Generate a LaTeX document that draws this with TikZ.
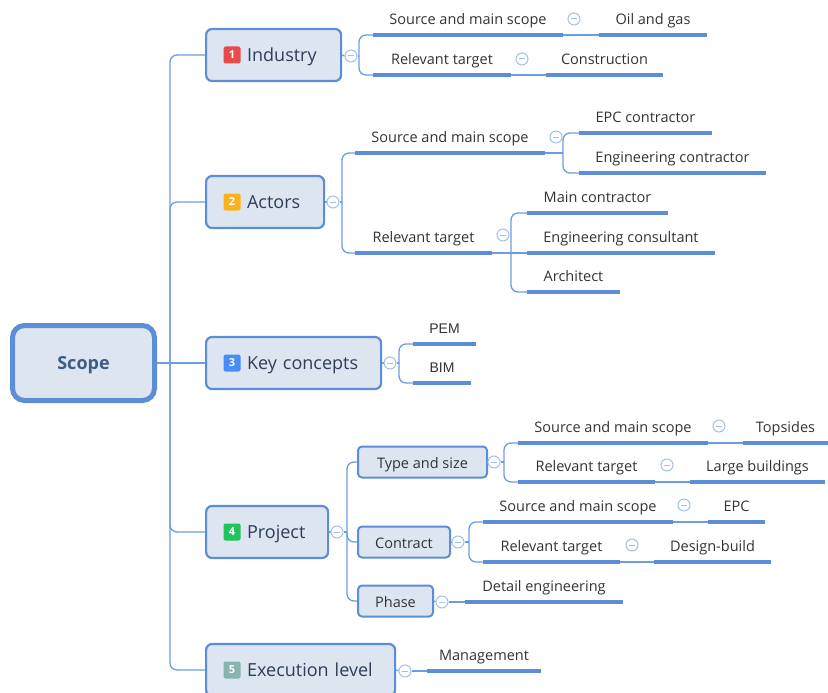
\documentclass[tikz,border=0pt]{standalone}
\usepackage{fontspec}
\setmainfont{Open Sans}
\newfontfamily\arialf{Liberation Sans}
\usetikzlibrary{backgrounds}
\definecolor{boxf}{HTML}{DDE5F1}
\definecolor{boxd}{HTML}{5B8ED7}
\definecolor{linec}{HTML}{5B8ED7}
\definecolor{connc}{HTML}{6C9DE2}
\definecolor{collc}{HTML}{A4BFEA}
\definecolor{leafc}{HTML}{333333}
\definecolor{topicc}{HTML}{2E3D5A}
\definecolor{scopec}{HTML}{3D5C88}
\definecolor{bone}{HTML}{E84B4B}
\definecolor{btwo}{HTML}{F9B21D}
\definecolor{bthree}{HTML}{4A8CF5}
\definecolor{bfour}{HTML}{22C35B}
\definecolor{bfive}{HTML}{86B5B0}
\tikzset{
  conn/.style={draw=connc, line width=1.3pt, rounded corners=7pt},
  uline/.style={draw=linec, line width=3.8pt},
  leaf/.style={inner sep=0pt, minimum height=28pt, text height=11pt, text depth=3.5pt, anchor=south, font=\fontsize{14.5}{16}\selectfont, text=leafc},
  topic/.style={draw=boxd, fill=boxf, line width=2.2pt, rounded corners=6pt, anchor=west, minimum height=52pt, inner xsep=10pt, inner ysep=0pt, text height=17pt, text depth=3.6pt, align=left, font=\fontsize{18}{20}\selectfont, text=topicc},
  subbox/.style={draw=boxd, fill=boxf, line width=2pt, rounded corners=4pt, anchor=west, minimum height=31pt, inner sep=0pt, text height=16.5pt, text depth=3.3pt, font=\fontsize{14.5}{16}\selectfont, text=leafc},
  badge/.style={rounded corners=2pt, minimum size=17pt, inner sep=0pt, text=white, font=\fontsize{11}{11}\selectfont\bfseries},
  coll/.style={circle, draw=collc, fill=white, line width=1pt, minimum size=12pt, inner sep=0pt,
    path picture={\draw[collc, line width=1pt] ([xshift=-3pt]path picture bounding box.center) -- ([xshift=3pt]path picture bounding box.center);}},
}
\begin{document}
\begin{tikzpicture}[x=1pt,y=-1pt]
\useasboundingbox (0,0) rectangle (828,693);

% ---------- main nodes ----------
\node[draw=boxd, fill=boxf, line width=5pt, rounded corners=12pt, minimum width=142pt, minimum height=75pt, inner sep=0pt,
      text height=16.5pt, text depth=3.9pt, font=\fontsize{18}{20}\selectfont\bfseries, text=scopec] (scope) at (83.5,363) {Scope};
\coordinate (tr) at (170,363);

\node[topic, text width=115pt] (ind) at (205,55) {\hspace*{31pt}Industry};
\node[topic, text width=98pt] (act) at (205,202) {\hspace*{31pt}Actors};
\node[topic, text width=155pt] (key) at (205,363) {\hspace*{31pt}Key concepts};
\node[topic, text width=102pt] (prj) at (205,532) {\hspace*{31pt}Project};
\node[topic, text width=169pt] (exe) at (205,670) {\hspace*{31pt}Execution level};

\node[badge, fill=bone] (b1) at (232,55) {1};
\node[badge, fill=btwo] (b2) at (232,202) {2};
\node[badge, fill=bthree] (b3) at (232,363) {3};
\node[badge, fill=bfour] (b4) at (232,532) {4};
\node[badge, fill=bfive] (b5) at (232,670) {5};

% ---------- Industry leaves ----------
\node[leaf, minimum width=190pt] (is1) at (468,35) {Source and main scope};
\node[leaf, minimum width=108pt] (is2) at (653,35) {Oil and gas};
\node[leaf, minimum width=138pt] (it1) at (442,75) {Relevant target};
\node[leaf, minimum width=117pt] (it2) at (604.5,75) {Construction};

% ---------- Actors leaves ----------
\node[leaf, minimum width=190pt] (as1) at (450,153) {Source and main scope};
\node[leaf, minimum width=133pt] (ae1) at (645.5,133) {EPC contractor};
\node[leaf, minimum width=187pt] (ae2) at (672.5,173) {Engineering contractor};
\node[leaf, minimum width=137pt] (at1) at (423.5,253) {Relevant target};
\node[leaf, minimum width=141pt] (am1) at (597.5,213) {Main contractor};
\node[leaf, minimum width=188pt] (am2) at (621,253) {Engineering consultant};
\node[leaf, minimum width=93pt] (am3) at (573.5,292) {Architect};

% ---------- Key concepts leaves ----------
\node[leaf, minimum width=63pt, font=\arialf\fontsize{14}{16}\selectfont] (kp) at (444.5,344) {PEM};
\node[leaf, minimum width=58pt, font=\arialf\fontsize{14}{16}\selectfont] (kb) at (442,383) {BIM};

% ---------- Project sub boxes ----------
\node[subbox, minimum width=129pt] (ts) at (357,462) {Type and size};
\node[subbox, minimum width=92pt] (ct) at (357,542) {Contract};
\node[subbox, minimum width=75pt] (ph) at (357,601) {Phase};

\node[leaf, minimum width=190pt] (ts1) at (613,443) {Source and main scope};
\node[leaf, minimum width=85pt] (ts2) at (785.5,443) {Topsides};
\node[leaf, minimum width=137pt] (tt1) at (586.5,482) {Relevant target};
\node[leaf, minimum width=135pt] (tt2) at (757.5,482) {Large buildings};

\node[leaf, minimum width=190pt] (cs1) at (578,522) {Source and main scope};
\node[leaf, minimum width=57pt] (cs2) at (736.5,522) {EPC};
\node[leaf, minimum width=137pt] (ct1) at (551.5,562) {Relevant target};
\node[leaf, minimum width=117pt] (ct2) at (712.5,562) {Design-build};

\node[leaf, minimum width=158pt] (pd) at (544,602) {Detail engineering};

% ---------- Execution leaf ----------
\node[leaf, minimum width=114pt] (em) at (484,671) {Management};

% ---------- underlines ----------
\foreach \n in {is1,is2,it1,it2,as1,ae1,ae2,at1,am1,am2,am3,kp,kb,ts1,ts2,tt1,tt2,cs1,cs2,ct1,ct2,pd,em}
  \draw[uline] (\n.south west) -- (\n.south east);

% ---------- collapse circles ----------
\node[coll] (ci) at (351,56) {};
\node[coll] (cis) at (574,19) {};
\node[coll] (cit) at (522,59) {};
\node[coll] (ca) at (333,202) {};
\node[coll] (cas) at (556,137) {};
\node[coll] (cat) at (503,235) {};
\node[coll] (ck) at (390,363) {};
\node[coll] (cp) at (337,532) {};
\node[coll] (cts) at (494,462) {};
\node[coll] (ctss) at (719,426) {};
\node[coll] (ctst) at (667,465) {};
\node[coll] (cct) at (458,542) {};
\node[coll] (ccts) at (684,505) {};
\node[coll] (cctt) at (632,545) {};
\node[coll] (cph) at (442,602) {};
\node[coll] (ce) at (405,671) {};

% ---------- connectors ----------
\begin{pgfonlayer}{background}
  % trunk
  \draw[conn] (scope.east) -- (tr);
  \draw[conn] (ind.west) -| (tr);
  \draw[conn] (act.west) -| (tr);
  \draw[conn] (key.west) -- (tr);
  \draw[conn] (prj.west) -| (tr);
  \draw[conn] (exe.west) -| (tr);
  % topic -> collapse
  \draw[conn] (ind.east) -- (ci.west);
  \draw[conn] (act.east) -- (ca.west);
  \draw[conn] (key.east) -- (ck.west);
  \draw[conn] (prj.east) -- (cp.west);
  \draw[conn] (exe.east) -- (ce.west);
  % Industry
  \coordinate (ji) at (359,56);
  \draw[conn] (ci.east) -- (ji);
  \draw[conn] (is1.south west) -| (ji);
  \draw[conn] (it1.south west) -| (ji);
  \draw[conn] (is1.south east) -- (is2.south west);
  \draw[conn] (it1.south east) -- (it2.south west);
  % Actors
  \coordinate (ja) at (342,202);
  \draw[conn] (ca.east) -- (ja);
  \draw[conn] (as1.south west) -| (ja);
  \draw[conn] (at1.south west) -| (ja);
  \coordinate (jas) at (563,153);
  \draw[conn] (as1.south east) -- (jas);
  \draw[conn] (ae1.south west) -| (jas);
  \draw[conn] (ae2.south west) -| (jas);
  \coordinate (jat) at (511,253);
  \draw[conn] (at1.south east) -- (am2.south west);
  \draw[conn] (am1.south west) -| (jat);
  \draw[conn] (am3.south west) -| (jat);
  % Key concepts
  \coordinate (jk) at (399,363);
  \draw[conn] (ck.east) -- (jk);
  \draw[conn] (kp.south west) -| (jk);
  \draw[conn] (kb.south west) -| (jk);
  % Project
  \coordinate (jp) at (347,532);
  \draw[conn] (cp.east) -- (jp);
  \draw[conn] (ts.west) -| (jp);
  \draw[conn] (ct.west) -| (jp);
  \draw[conn] (ph.west) -| (jp);
  \draw[conn] (ts.east) -- (cts.west);
  \draw[conn] (ct.east) -- (cct.west);
  \draw[conn] (ph.east) -- (cph.west);
  \coordinate (jts) at (504,462);
  \draw[conn] (cts.east) -- (jts);
  \draw[conn] (ts1.south west) -| (jts);
  \draw[conn] (tt1.south west) -| (jts);
  \draw[conn] (ts1.south east) -- (ts2.south west);
  \draw[conn] (tt1.south east) -- (tt2.south west);
  \coordinate (jct) at (469,542);
  \draw[conn] (cct.east) -- (jct);
  \draw[conn] (cs1.south west) -| (jct);
  \draw[conn] (ct1.south west) -| (jct);
  \draw[conn] (cs1.south east) -- (cs2.south west);
  \draw[conn] (ct1.south east) -- (ct2.south west);
  \draw[conn] (cph.east) -- (pd.south west);
  % Execution
  \draw[conn] (ce.east) -- (em.south west);
\end{pgfonlayer}

\end{tikzpicture}
\end{document}
